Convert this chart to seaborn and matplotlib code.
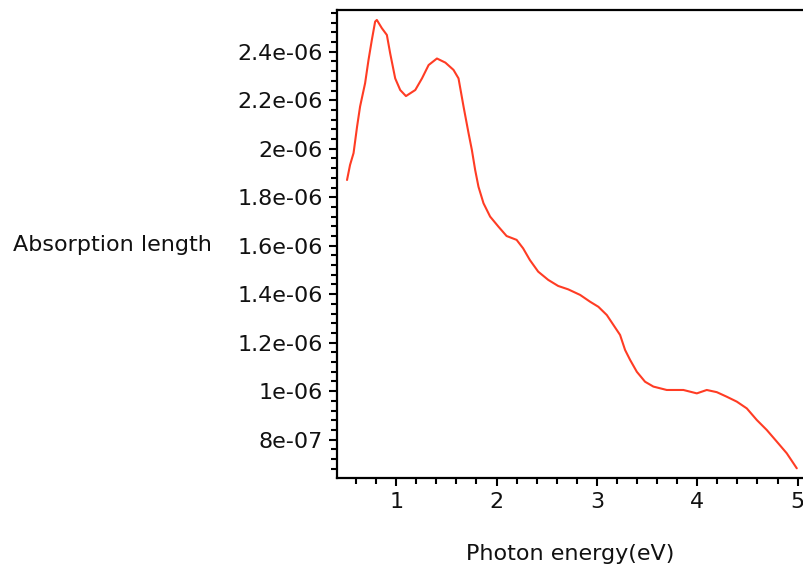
import matplotlib
matplotlib.use("Agg")
import matplotlib.pyplot as plt
import seaborn as sns
import pandas as pd
from matplotlib.ticker import MultipleLocator, FixedLocator, FixedFormatter

energy = [0.51, 0.54, 0.575, 0.61, 0.64, 0.69, 0.724, 0.757, 0.79, 0.807, 0.857, 0.907,
          0.94, 0.99, 1.04, 1.097, 1.19, 1.257, 1.323, 1.406, 1.49, 1.571, 1.621, 1.671,
          1.721, 1.754, 1.787, 1.82, 1.87, 1.936, 2.02, 2.10, 2.2, 2.265, 2.332, 2.415,
          2.515, 2.614, 2.714, 2.833, 2.932, 3.015, 3.099, 3.165, 3.231, 3.281, 3.331,
          3.398, 3.48, 3.563, 3.696, 3.862, 3.996, 4.095, 4.195, 4.295, 4.394, 4.494,
          4.594, 4.693, 4.793, 4.892, 4.992]
absorption = [1.871, 1.933, 1.982, 2.091, 2.174, 2.27, 2.366, 2.448, 2.524, 2.531, 2.497,
              2.469, 2.393, 2.29, 2.242, 2.217, 2.242, 2.29, 2.345, 2.372, 2.355, 2.325,
              2.29, 2.174, 2.064, 1.995, 1.912, 1.843, 1.775, 1.72, 1.678, 1.64, 1.624,
              1.589, 1.541, 1.493, 1.459, 1.434, 1.42, 1.397, 1.369, 1.348, 1.314, 1.273,
              1.232, 1.17, 1.129, 1.08, 1.039, 1.019, 1.005, 1.005, 0.991, 1.005, 0.996,
              0.977, 0.957, 0.929, 0.881, 0.84, 0.792, 0.744, 0.682]
absorption = [v * 1e-6 for v in absorption]

y_ticks = [8e-07, 1e-06, 1.2e-06, 1.4e-06, 1.6e-06, 1.8e-06, 2e-06, 2.2e-06, 2.4e-06]
y_tick_labels = ["8e-07", "1e-06", "1.2e-06", "1.4e-06", "1.6e-06", "1.8e-06", "2e-06", "2.2e-06", "2.4e-06"]
x_ticks = [1, 2, 3, 4, 5]
x_tick_labels = ["1", "2", "3", "4", "5"]

df = pd.DataFrame({"energy": energy, "absorption": absorption})

sns.set_theme(style="ticks")
plt.rcParams["font.family"] = ["DejaVu Sans"]

fig = plt.figure(figsize=(8.04, 5.71), dpi=100)
ax = fig.add_axes([337 / 804, 93 / 571, 1 - 337 / 804, 468 / 571])

sns.lineplot(data=df, x="energy", y="absorption", ax=ax, color="#ff3c24",
             linewidth=1.5, sort=False)

ax.set_xlim(0.41, 5.064)
ax.set_ylim(0.642e-6, 2.572e-6)

ax.xaxis.set_major_locator(FixedLocator(x_ticks))
ax.xaxis.set_major_formatter(FixedFormatter(x_tick_labels))
ax.xaxis.set_minor_locator(MultipleLocator(0.2))
ax.yaxis.set_major_locator(FixedLocator(y_ticks))
ax.yaxis.set_major_formatter(FixedFormatter(y_tick_labels))
ax.yaxis.set_minor_locator(MultipleLocator(0.04e-6))

for side in ["left", "bottom", "top"]:
    ax.spines[side].set_visible(True)
    ax.spines[side].set_color("black")
    ax.spines[side].set_linewidth(1.6)
ax.spines["right"].set_visible(False)

ax.tick_params(axis="both", which="major", direction="out", length=6, width=1.5,
               colors="black", labelsize=16, pad=4)
ax.tick_params(axis="both", which="minor", direction="out", length=4, width=1.5,
               colors="black")
ax.tick_params(top=False, right=False, which="both")
for lab in ax.get_xticklabels() + ax.get_yticklabels():
    lab.set_color("#111111")

ax.set_xlabel("")
ax.set_ylabel("")
fig.text(570 / 804, 1 - 554 / 571, "Photon energy(eV)", ha="center", va="center",
         fontsize=16, color="#111111")
fig.text(13 / 804, 1 - 245 / 571, "Absorption length", ha="left", va="center",
         fontsize=16, color="#111111")

fig.savefig("out.png", dpi=100, facecolor="white")
